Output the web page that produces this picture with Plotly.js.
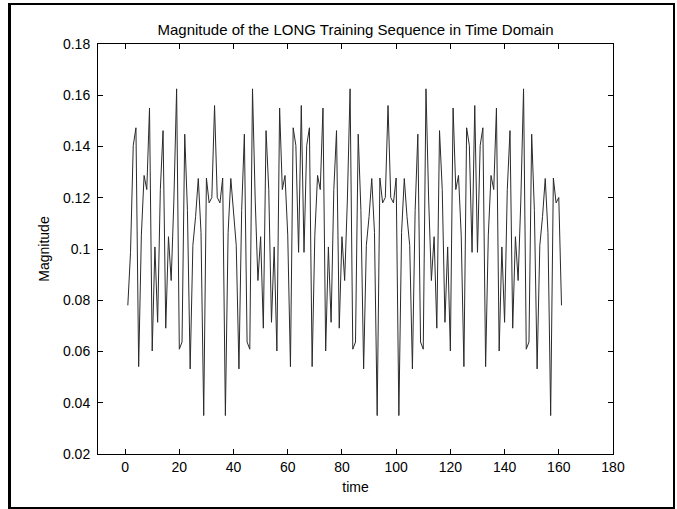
<!DOCTYPE html>
<html>
<head>
<meta charset="utf-8">
<script src="https://cdn.plot.ly/plotly-3.0.1.min.js"></script>
<style>
  html, body { margin: 0; padding: 0; background: #ffffff; }
  #wrap { position: relative; width: 677px; height: 509px; overflow: hidden; }
  #chart { position: absolute; left: 0; top: 0; width: 677px; height: 509px; }
  #frame { position: absolute; left: 8px; top: 3px; width: 662px; height: 502px;
           border-left: 3px solid #000; border-top: 2px solid #000;
           border-right: 2px solid #000; border-bottom: 2px solid #000; pointer-events: none; }
</style>
</head>
<body>
<div id="wrap">
  <div id="chart"></div>
  <div id="frame"></div>
</div>
<script>
// Magnitude of the 802.11a long training sequence (161 samples)
const magnitude = [
  0.0780,
  0.0987,0.1404,0.1473,0.0541,0.1054,0.1287,0.1232,0.1550,0.0602,0.1008,0.0714,0.1232,0.1462,0.0691,0.1048,0.0877,
  0.1191,0.1625,0.0609,0.0637,0.1448,0.1150,0.0532,0.1014,0.1126,0.1275,0.1065,0.0350,0.1277,0.1180,0.1201,0.1560,
  0.1201,0.1180,0.1277,0.0350,0.1065,0.1275,0.1126,0.1014,0.0532,0.1150,0.1448,0.0637,0.0609,0.1625,0.1191,0.0877,
  0.1048,0.0691,0.1462,0.1232,0.0714,0.1008,0.0602,0.1550,0.1232,0.1287,0.1054,0.0541,0.1473,0.1404,0.0987,
  0.1560,
  0.0987,0.1404,0.1473,0.0541,0.1054,0.1287,0.1232,0.1550,0.0602,0.1008,0.0714,0.1232,0.1462,0.0691,0.1048,0.0877,
  0.1191,0.1625,0.0609,0.0637,0.1448,0.1150,0.0532,0.1014,0.1126,0.1275,0.1065,0.0350,0.1277,0.1180,0.1201,0.1560,
  0.1201,0.1180,0.1277,0.0350,0.1065,0.1275,0.1126,0.1014,0.0532,0.1150,0.1448,0.0637,0.0609,0.1625,0.1191,0.0877,
  0.1048,0.0691,0.1462,0.1232,0.0714,0.1008,0.0602,0.1550,0.1232,0.1287,0.1054,0.0541,0.1473,0.1404,0.0987,
  0.1560,
  0.0987,0.1404,0.1473,0.0541,0.1054,0.1287,0.1232,0.1550,0.0602,0.1008,0.0714,0.1232,0.1462,0.0691,0.1048,0.0877,
  0.1191,0.1625,0.0609,0.0637,0.1448,0.1150,0.0532,0.1014,0.1126,0.1275,0.1065,0.0350,0.1277,0.1180,0.1201,
  0.0780
];
// sample index (MATLAB 1-based)
const time = magnitude.map((_, i) => i + 1);

const xTickVals = [0, 20, 40, 60, 80, 100, 120, 140, 160, 180];
const xTickText = ["0", "20", "40", "60", "80", "100", "120", "140", "160", "180"];
const yTickVals = [0.02, 0.04, 0.06, 0.08, 0.10, 0.12, 0.14, 0.16, 0.18];
const yTickText = ["0.02", "0.04", "0.06", "0.08", "0.1", "0.12", "0.14", "0.16", "0.18"];

const FONT = "Arial, 'Liberation Sans', Helvetica, sans-serif";
const FS = 14;

const trace = {
  x: time,
  y: magnitude,
  type: "scatter",
  mode: "lines",
  line: { color: "#2a2a2a", width: 1 },
  hoverinfo: "skip"
};

const layout = {
  width: 677,
  height: 509,
  margin: { l: 98, r: 64, t: 44, b: 55 },
  paper_bgcolor: "#ffffff",
  plot_bgcolor: "#ffffff",
  showlegend: false,
  font: { family: FONT, size: FS, color: "#000" },
  title: {
    text: "Magnitude of the LONG Training Sequence in Time Domain",
    font: { family: FONT, size: 15, color: "#000" },
    x: 0.5, xref: "paper", xanchor: "center",
    y: 1, yref: "paper", yanchor: "bottom", pad: { b: 9 }
  },
  xaxis: {
    range: [-10, 180],
    tickmode: "array", tickvals: xTickVals, ticktext: xTickText,
    ticks: "inside", ticklen: 5, tickcolor: "#000", tickwidth: 1,
    showline: true, linecolor: "#000", linewidth: 1, mirror: "ticks",
    showgrid: false, zeroline: false,
    tickfont: { family: FONT, size: FS, color: "#000" },
    title: { text: "time", font: { family: FONT, size: FS, color: "#000" }, standoff: 8 }
  },
  yaxis: {
    range: [0.02, 0.18],
    tickmode: "array", tickvals: yTickVals, ticktext: yTickText,
    ticks: "inside", ticklen: 5, tickcolor: "#000", tickwidth: 1,
    showline: true, linecolor: "#000", linewidth: 1, mirror: "ticks",
    showgrid: false, zeroline: false,
    ticklabelstandoff: 4,
    tickfont: { family: FONT, size: FS, color: "#000" },
    title: { text: "Magnitude", font: { family: FONT, size: FS, color: "#000" }, standoff: 10 }
  }
};

Plotly.newPlot("chart", [trace], layout, { displayModeBar: false, staticPlot: true });
</script>
</body>
</html>
